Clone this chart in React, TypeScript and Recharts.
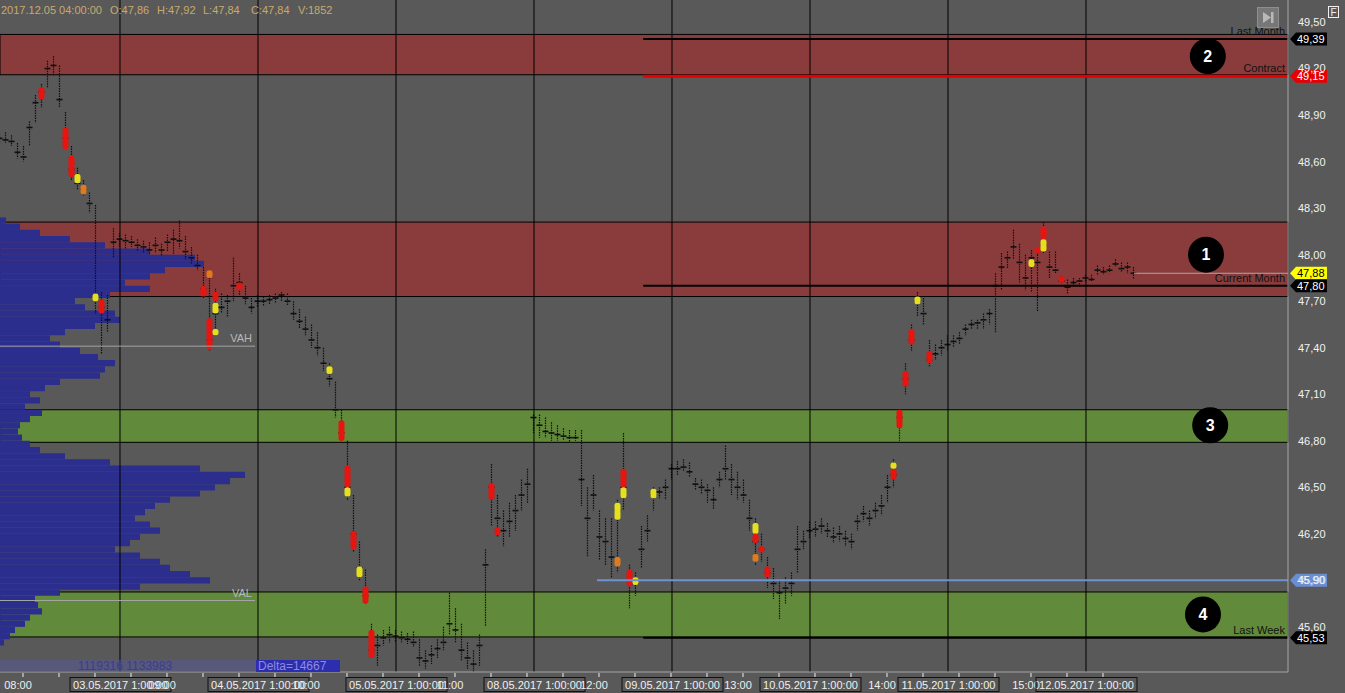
import { useMemo } from "react";
import { Bar, ComposedChart, ReferenceArea, ReferenceDot, ReferenceLine, XAxis, YAxis } from "recharts";

// bars per session: [low, high, close]
const s0205 = [
  [48.71, 48.78, 48.75], [48.72, 48.79, 48.74], [48.7, 48.77, 48.73], [48.62, 48.72, 48.66], [48.6, 48.7, 48.63],
  [48.7, 48.86, 48.82], [48.85, 49.03, 48.98], [48.95, 49.1, 49.05], [49.08, 49.25, 49.2], [49.15, 49.28, 49.22],
  [48.95, 49.22, 49.0], [48.68, 48.92, 48.75], [48.48, 48.7, 48.55], [48.42, 48.56, 48.46], [48.38, 48.48, 48.42],
  [48.27, 48.4, 48.33], [47.62, 48.32, 47.74], [47.36, 47.76, 47.66], [47.5, 47.74, 47.58], [47.98, 48.17, 48.08],
];
const s0305 = [
  [48.05, 48.14, 48.1], [48.04, 48.13, 48.09], [48.05, 48.12, 48.08], [48.02, 48.1, 48.06], [48.01, 48.09, 48.05],
  [48.0, 48.08, 48.03], [48.01, 48.11, 48.06], [47.99, 48.07, 48.03], [48.02, 48.13, 48.08], [48.0, 48.16, 48.1],
  [48.04, 48.22, 48.09], [47.97, 48.12, 48.02], [47.94, 48.05, 47.98], [47.9, 48.0, 47.93], [47.72, 47.92, 47.78],
  [47.38, 47.9, 47.45], [47.48, 47.78, 47.62], [47.62, 47.75, 47.66], [47.6, 47.74, 47.7], [47.7, 47.98, 47.8],
  [47.74, 47.88, 47.82], [47.68, 47.8, 47.72], [47.62, 47.72, 47.66],
];
const s0405 = [
  [47.66, 47.74, 47.7], [47.67, 47.73, 47.7], [47.68, 47.74, 47.71], [47.69, 47.75, 47.72], [47.7, 47.76, 47.74],
  [47.67, 47.75, 47.7], [47.58, 47.7, 47.62], [47.52, 47.65, 47.57], [47.48, 47.6, 47.52], [47.4, 47.55, 47.45],
  [47.35, 47.5, 47.4], [47.25, 47.4, 47.3], [47.15, 47.3, 47.2], [46.95, 47.18, 47.0], [46.8, 47.0, 46.85],
  [46.42, 46.8, 46.5], [46.08, 46.45, 46.2], [45.9, 46.15, 45.98], [45.75, 45.97, 45.8], [45.4, 45.62, 45.45],
  [45.35, 45.55, 45.48], [45.48, 45.58, 45.53], [45.5, 45.6, 45.55],
];
const s0505 = [
  [45.5, 45.58, 45.54], [45.5, 45.57, 45.53], [45.49, 45.56, 45.52], [45.47, 45.57, 45.5], [45.35, 45.52, 45.4],
  [45.33, 45.45, 45.38], [45.36, 45.48, 45.42], [45.4, 45.52, 45.46], [45.45, 45.6, 45.5], [45.55, 45.82, 45.62],
  [45.5, 45.72, 45.58], [45.38, 45.62, 45.45], [45.33, 45.5, 45.4], [45.31, 45.45, 45.36], [45.35, 45.55, 45.48],
  [45.6, 46.1, 46.0], [46.25, 46.65, 46.5], [46.18, 46.45, 46.3], [46.12, 46.35, 46.22], [46.18, 46.4, 46.28],
  [46.22, 46.45, 46.35], [46.35, 46.55, 46.45], [46.4, 46.62, 46.52],
];
const s0805 = [
  [46.85, 46.97, 46.95], [46.82, 46.97, 46.9], [46.82, 46.95, 46.86], [46.8, 46.92, 46.85], [46.8, 46.9, 46.84],
  [46.8, 46.88, 46.83], [46.79, 46.87, 46.82], [46.8, 46.87, 46.82], [46.38, 46.87, 46.55], [46.05, 46.5, 46.3],
  [46.35, 46.58, 46.45], [46.03, 46.35, 46.18], [46.0, 46.3, 46.15], [45.92, 46.3, 46.05], [45.95, 46.42, 46.35],
  [46.35, 46.85, 46.5], [45.72, 46.0, 45.9], [45.8, 45.95, 45.88], [45.98, 46.25, 46.1], [46.15, 46.32, 46.22],
  [46.35, 46.5, 46.45], [46.43, 46.5, 46.47], [46.42, 46.55, 46.5],
];
const s0905 = [
  [46.55, 46.65, 46.62], [46.58, 46.67, 46.62], [46.6, 46.68, 46.63], [46.57, 46.66, 46.6], [46.48, 46.56, 46.52],
  [46.46, 46.55, 46.5], [46.4, 46.52, 46.48], [46.36, 46.5, 46.42], [46.5, 46.6, 46.55], [46.55, 46.77, 46.62],
  [46.45, 46.65, 46.55], [46.42, 46.6, 46.5], [46.4, 46.55, 46.45], [46.22, 46.42, 46.3], [46.0, 46.3, 46.15],
  [46.02, 46.2, 46.1], [45.85, 46.05, 45.95], [45.78, 45.98, 45.88], [45.65, 45.9, 45.82], [45.75, 45.92, 45.85],
  [45.8, 45.95, 45.88], [45.95, 46.25, 46.1], [46.1, 46.22, 46.15],
];
const s1005 = [
  [46.17, 46.28, 46.22], [46.18, 46.28, 46.23], [46.2, 46.3, 46.25], [46.18, 46.27, 46.22], [46.14, 46.24, 46.18],
  [46.15, 46.25, 46.2], [46.12, 46.22, 46.17], [46.1, 46.2, 46.15], [46.22, 46.32, 46.28], [46.28, 46.38, 46.33],
  [46.25, 46.35, 46.3], [46.3, 46.4, 46.35], [46.32, 46.45, 46.38], [46.4, 46.58, 46.5], [46.5, 46.68, 46.58],
  [46.8, 47.0, 46.95], [47.1, 47.3, 47.2], [47.38, 47.55, 47.45], [47.6, 47.76, 47.7], [47.55, 47.72, 47.62],
  [47.28, 47.45, 47.32], [47.32, 47.42, 47.36], [47.35, 47.45, 47.4],
];
const s1105 = [
  [47.38, 47.48, 47.42], [47.4, 47.48, 47.44], [47.42, 47.5, 47.46], [47.48, 47.55, 47.52], [47.52, 47.58, 47.55],
  [47.52, 47.58, 47.56], [47.52, 47.62, 47.58], [47.55, 47.65, 47.62], [47.5, 47.88, 47.8], [47.77, 48.01, 47.92],
  [47.91, 48.02, 47.98], [47.97, 48.16, 48.05], [47.82, 48.07, 47.95], [47.77, 48.0, 47.85], [47.76, 48.03, 47.98],
  [47.63, 48.05, 47.95], [48.01, 48.21, 48.06], [47.85, 48.02, 47.92], [47.88, 48.02, 47.9], [47.82, 47.86, 47.83],
  [47.75, 47.84, 47.79], [47.8, 47.85, 47.82], [47.8, 47.85, 47.83],
];
const s1205 = [
  [47.82, 47.87, 47.85], [47.83, 47.87, 47.84], [47.87, 47.93, 47.9], [47.87, 47.92, 47.89], [47.88, 47.93, 47.9],
  [47.92, 47.97, 47.94], [47.89, 47.95, 47.91], [47.88, 47.95, 47.92], [47.84, 47.92, 47.88],
];
const sessions = [s0205, s0305, s0405, s0505, s0805, s0905, s1005, s1105, s1205];
const sessionLabels = [
  "03.05.2017 1:00:00", "04.05.2017 1:00:00", "05.05.2017 1:00:00", "08.05.2017 1:00:00",
  "09.05.2017 1:00:00", "10.05.2017 1:00:00", "11.05.2017 1:00:00", "12.05.2017 1:00:00",
];
const hourLabels = ["08:00", "09:00", "10:00", "11:00", "12:00", "13:00", "14:00", "15:00"];
const priceTicks = [49.5, 49.2, 48.9, 48.6, 48.3, 48.0, 47.7, 47.4, 47.1, 46.8, 46.5, 46.2, 45.9, 45.6];

// volume clusters: [bar, low, high, kind]
const clusters: [number, number, number, string][] = [
  [7, 49.0, 49.08, "r"], [11, 48.68, 48.82, "r"], [12, 48.5, 48.64, "r"], [13, 48.46, 48.52, "y"],
  [14, 48.39, 48.45, "o"], [16, 47.7, 47.75, "y"], [17, 47.62, 47.71, "r"], [34, 47.73, 47.8, "r"],
  [35, 47.85, 47.9, "o"], [35, 47.39, 47.59, "r"], [36, 47.7, 47.76, "r"], [36, 47.62, 47.69, "y"],
  [36, 47.48, 47.52, "y"], [40, 47.77, 47.82, "r"], [55, 47.23, 47.28, "y"], [57, 46.8, 46.93, "r"],
  [58, 46.5, 46.64, "r"], [58, 46.44, 46.5, "y"], [59, 46.1, 46.22, "r"], [60, 45.92, 45.99, "y"],
  [61, 45.75, 45.86, "r"], [62, 45.4, 45.58, "r"], [82, 46.42, 46.53, "r"], [83, 46.19, 46.24, "r"],
  [103, 46.29, 46.4, "y"], [103, 45.99, 46.05, "o"], [104, 46.5, 46.62, "r"], [104, 46.43, 46.5, "y"],
  [105, 45.86, 45.97, "r"], [106, 45.87, 45.92, "y"], [109, 46.43, 46.49, "y"], [126, 46.2, 46.27, "y"],
  [126, 46.14, 46.2, "r"], [126, 46.02, 46.07, "o"], [127, 46.08, 46.12, "r"], [128, 45.92, 45.99, "r"],
  [149, 46.55, 46.62, "r"], [149, 46.62, 46.66, "y"], [150, 46.88, 47.0, "r"], [151, 47.15, 47.25, "r"],
  [152, 47.42, 47.52, "r"], [153, 47.68, 47.73, "y"], [155, 47.3, 47.38, "r"], [172, 47.92, 47.97, "y"],
  [173, 48.01, 48.05, "r"], [174, 48.1, 48.18, "r"], [174, 48.02, 48.1, "y"], [177, 47.82, 47.86, "r"],
];

// left volume profile: [price, volume]
const volumeProfile: [number, number][] = [
  [48.22, 6], [48.18, 20], [48.14, 40], [48.1, 70], [48.06, 105], [48.02, 150], [47.98, 195], [47.94, 204],
  [47.9, 165], [47.86, 150], [47.82, 125], [47.78, 150], [47.74, 110], [47.7, 75], [47.66, 85], [47.62, 115],
  [47.58, 120], [47.54, 95], [47.5, 65], [47.46, 50], [47.42, 60], [47.38, 80], [47.34, 98], [47.3, 115],
  [47.26, 105], [47.22, 100], [47.18, 60], [47.14, 45], [47.1, 30], [47.06, 40], [47.02, 25], [46.98, 42],
  [46.94, 30], [46.9, 20], [46.86, 18], [46.82, 22], [46.78, 30], [46.74, 40], [46.7, 65], [46.66, 110],
  [46.62, 200], [46.58, 245], [46.54, 230], [46.5, 215], [46.46, 200], [46.42, 170], [46.38, 155], [46.34, 145],
  [46.3, 135], [46.26, 150], [46.22, 160], [46.18, 140], [46.14, 130], [46.1, 115], [46.06, 140], [46.02, 160],
  [45.98, 170], [45.94, 190], [45.9, 210], [45.86, 140], [45.82, 60], [45.78, 35], [45.74, 38], [45.7, 42],
  [45.66, 30], [45.62, 25], [45.58, 15], [45.54, 10], [45.5, 4],
];

const resistanceZones = [[49.16, 49.42], [47.73, 48.21]];
const supportZones = [[46.79, 47.0], [45.535, 45.825]];
const zoneMarks = [
  { n: "2", x: 201.3, y: 49.28 },
  { n: "1", x: 201.0, y: 48.0 },
  { n: "3", x: 201.7, y: 46.9 },
  { n: "4", x: 200.5, y: 45.68 },
];
const lastMonth = 49.39, contract = 49.15, currentMonth = 47.8, lastWeek = 45.53;
const weekLow = 45.9, lastPrice = 47.88, vah = 47.41, val = 45.77;
const levelsFrom = 107.2, weekLowFrom = 99.5, valueAreaTo = 42.5, lastBar = 189;

const W = 1345, H = 693;
const X_MAX = 214.667;
const VOL_MAX = 1288;
const Y_MIN = 45.309, Y_MAX = 49.642;
const FONT = '"Liberation Sans", Arial, sans-serif';
const BG = "#595959";
const AXIS = "#a6a6a6";
const INK = "#101010";
const CLUSTER: Record<string, string> = { r: "#e8140f", y: "#e6df1e", o: "#e07a1c" };

const hourTicks = Array.from({ length: 31 }, (_, k) => 23 / 6 + 6 * k);
const sessionStarts = sessionLabels.map((_, j) => 20 + 23 * j);
const timeTicks = [...hourTicks, ...sessionStarts].sort((a, b) => a - b);
const fmt = (v: number) => v.toFixed(2).replace(".", ",");

function TimeTick(props: any) {
  const { x, y, payload } = props;
  const v = payload.value;
  const h = hourTicks.indexOf(v);
  const s = sessionStarts.indexOf(v);
  return (
    <g>
      {h >= 0 && <line x1={x} x2={x} y1={y + 1} y2={y + 5} stroke="#f0f0f0" />}
      {h >= 0 && h % 4 === 0 && (
        <text x={x - 5} y={y + 17} textAnchor="middle" fill="#f0f0f0" fontSize={11}>{hourLabels[h / 4]}</text>
      )}
      {s >= 0 && (
        <g>
          <rect x={x - 50} y={y + 5.5} width={101} height={14} fill="none" stroke="#111" />
          <text x={x + 0.5} y={y + 17} textAnchor="middle" fill="#f0f0f0" fontSize={11}>{sessionLabels[s]}</text>
        </g>
      )}
    </g>
  );
}

function TickColumn(props: any) {
  const { x, y, width, height, payload } = props;
  if (!payload) return null;
  const [lo, hi] = payload.range;
  const top = Math.min(y, y + height);
  const h = Math.abs(height);
  const cx = x + width / 2;
  const py = (p: number) => (hi === lo ? top : top + ((hi - p) / (hi - lo)) * h);
  return (
    <g>
      <line x1={cx} x2={cx} y1={top} y2={top + h} stroke={INK} strokeWidth={1.2} strokeDasharray="1.5 1" />
      <line x1={cx - 3} x2={cx + 3} y1={py(payload.close)} y2={py(payload.close)} stroke={INK} strokeWidth={1.6} />
      {payload.marks.map((m: any, k: number) => {
        const y1 = py(m[2]);
        const y2 = py(m[1]);
        return <rect key={k} x={cx - 3} y={y1} width={6} height={Math.max(3, y2 - y1)} rx={2.5} fill={CLUSTER[m[3]]} />;
      })}
    </g>
  );
}

function PriceTag({ cx, cy, bg, fg, text }: any) {
  return (
    <g>
      <polygon
        points={`${cx + 2},${cy} ${cx + 8},${cy - 6.5} ${cx + 39},${cy - 6.5} ${cx + 39},${cy + 6.5} ${cx + 8},${cy + 6.5}`}
        fill={bg}
      />
      <text x={cx + 9} y={cy + 4} fill={fg} fontSize={11}>{text}</text>
    </g>
  );
}

const lineLabel = (text: string, color: string) => (p: any) => {
  const vb = p.viewBox || {};
  return (
    <text x={(vb.x || 0) + (vb.width || 0) - 3} y={(vb.y || 0) - 4} textAnchor="end" fill={color} fontSize={11}>
      {text}
    </text>
  );
};

export default function App() {
  const data = useMemo(
    () =>
      sessions.flat().map(([lo, hi, c], i) => ({
        i,
        range: [lo, hi],
        close: c,
        marks: clusters.filter((m) => m[0] === i),
      })),
    []
  );

  const tags = [
    { p: lastMonth, bg: "#000", fg: "#fff" },
    { p: contract, bg: "#e60000", fg: "#fff" },
    { p: lastPrice, bg: "#ffff00", fg: "#000" },
    { p: currentMonth, bg: "#000", fg: "#fff" },
    { p: weekLow, bg: "#6a8ed0", fg: "#cfdcf5" },
    { p: lastWeek, bg: "#000", fg: "#fff" },
  ];

  return (
    <div style={{ position: "relative", width: W, height: H, background: BG, overflow: "hidden", fontFamily: FONT }}>
      <style>{"body{margin:0}"}</style>
      <ComposedChart width={W} height={H} data={data} margin={{ top: 0, right: 0, bottom: 0, left: 0 }}>
        <XAxis
          xAxisId="t"
          dataKey="i"
          type="number"
          domain={[0, X_MAX]}
          allowDataOverflow
          ticks={timeTicks}
          interval={0}
          tickSize={0}
          tickMargin={0}
          height={21}
          axisLine={{ stroke: AXIS }}
          tick={<TimeTick />}
        />
        <XAxis xAxisId="vol" dataKey="vol" type="number" domain={[0, VOL_MAX]} allowDataOverflow hide />
        <YAxis
          orientation="right"
          type="number"
          width={57}
          domain={[Y_MIN, Y_MAX]}
          allowDataOverflow
          ticks={priceTicks}
          interval={0}
          tickLine={false}
          tickSize={0}
          tickMargin={10}
          axisLine={{ stroke: AXIS }}
          tick={{ fill: "#f2f2f2", fontSize: 11 }}
          tickFormatter={fmt}
        />

        {resistanceZones.map(([a, b], k) => (
          <ReferenceArea key={`r${k}`} xAxisId="t" y1={a} y2={b} fill="#8a3c3c" fillOpacity={1} stroke="#000" strokeWidth={1} />
        ))}
        {supportZones.map(([a, b], k) => (
          <ReferenceArea key={`s${k}`} xAxisId="t" y1={a} y2={b} fill="#628a3b" fillOpacity={1} stroke="#000" strokeWidth={1} />
        ))}
        {volumeProfile.map(([p, v]) => (
          <ReferenceArea
            key={`v${p}`}
            xAxisId="vol"
            x1={0}
            x2={v}
            y1={p - 0.02}
            y2={p + 0.02}
            ifOverflow="visible"
            fill="#2c2e8e"
            fillOpacity={1}
            stroke="none"
          />
        ))}
        {sessionStarts.map((s) => (
          <ReferenceLine key={`d${s}`} xAxisId="t" x={s} stroke="#000" />
        ))}

        <ReferenceLine xAxisId="t" segment={[{ x: 0, y: vah }, { x: valueAreaTo, y: vah }]} stroke="#a4a4a4" label={lineLabel("VAH", "#b8b8b8")} />
        <ReferenceLine xAxisId="t" segment={[{ x: 0, y: val }, { x: valueAreaTo, y: val }]} stroke="#a4a4a4" label={lineLabel("VAL", "#b8b8b8")} />
        <ReferenceLine xAxisId="t" segment={[{ x: weekLowFrom, y: weekLow }, { x: X_MAX, y: weekLow }]} stroke="#6f92d2" strokeWidth={2} />
        <ReferenceLine xAxisId="t" segment={[{ x: lastBar, y: lastPrice }, { x: X_MAX, y: lastPrice }]} stroke="#a8a8a8" />

        <Bar xAxisId="t" dataKey="range" barSize={5} isAnimationActive={false} shape={<TickColumn />} />

        <ReferenceLine xAxisId="t" segment={[{ x: levelsFrom, y: lastMonth }, { x: X_MAX, y: lastMonth }]} stroke="#000" strokeWidth={2} label={lineLabel("Last Month", "#111")} />
        <ReferenceLine xAxisId="t" segment={[{ x: levelsFrom, y: contract }, { x: X_MAX, y: contract }]} stroke="#e60000" strokeWidth={3} label={lineLabel("Contract", "#111")} />
        <ReferenceLine xAxisId="t" segment={[{ x: levelsFrom, y: currentMonth }, { x: X_MAX, y: currentMonth }]} stroke="#000" strokeWidth={2} label={lineLabel("Current Month", "#111")} />
        <ReferenceLine xAxisId="t" segment={[{ x: levelsFrom, y: lastWeek }, { x: X_MAX, y: lastWeek }]} stroke="#000" strokeWidth={2} label={lineLabel("Last Week", "#111")} />

        {zoneMarks.map((z) => (
          <ReferenceDot
            key={z.n}
            xAxisId="t"
            x={z.x}
            y={z.y}
            r={18}
            fill="#000"
            stroke="none"
            ifOverflow="visible"
            label={{ value: z.n, position: "center", fill: "#fff", fontSize: 16, fontWeight: "bold" }}
          />
        ))}
        {tags.map((t) => (
          <ReferenceDot
            key={`t${t.p}`}
            xAxisId="t"
            x={X_MAX}
            y={t.p}
            r={1}
            ifOverflow="visible"
            shape={(p: any) => <PriceTag cx={p.cx} cy={p.cy} bg={t.bg} fg={t.fg} text={fmt(t.p)} />}
          />
        ))}
      </ComposedChart>

      <div style={{ position: "absolute", left: 0, top: 4, height: 14, width: 400, fontSize: 11, color: "#c8aa6e", whiteSpace: "pre" }}>
        <span style={{ position: "absolute", left: 1 }}>2017.12.05 04:00:00</span>
        <span style={{ position: "absolute", left: 110 }}>O:47,86</span>
        <span style={{ position: "absolute", left: 157 }}>H:47,92</span>
        <span style={{ position: "absolute", left: 203 }}>L:47,84</span>
        <span style={{ position: "absolute", left: 251 }}>C:47,84</span>
        <span style={{ position: "absolute", left: 298 }}>V:1852</span>
      </div>

      <svg style={{ position: "absolute", left: 1257, top: 7 }} width={22} height={21}>
        <rect x={0.5} y={0.5} width={21} height={20} fill="#777" stroke="#8e8e8e" />
        <polygon points="6,5 14,10.5 6,16" fill="#b8b8b8" />
        <rect x={14} y={5} width={2.5} height={11} fill="#b8b8b8" />
      </svg>
      <div
        style={{
          position: "absolute", left: 1328, top: 6, width: 11, height: 12, border: "1px solid #f0f0f0",
          color: "#f0f0f0", fontSize: 10, lineHeight: "12px", textAlign: "center", boxSizing: "border-box",
        }}
      >
        F
      </div>

      <div style={{ position: "absolute", left: 0, top: 660, width: 256, height: 12, background: "rgba(88,88,150,0.55)" }} />
      <div style={{ position: "absolute", left: 78, top: 659, fontSize: 12, color: "#3c3c92", lineHeight: "14px" }}>1119316 1133983</div>
      <div
        style={{
          position: "absolute", left: 256, top: 660, width: 84, height: 12, background: "#2d2db0",
          color: "#8c8ce0", fontSize: 12, lineHeight: "12px", paddingLeft: 2, boxSizing: "border-box",
        }}
      >
        Delta=14667
      </div>
    </div>
  );
}
